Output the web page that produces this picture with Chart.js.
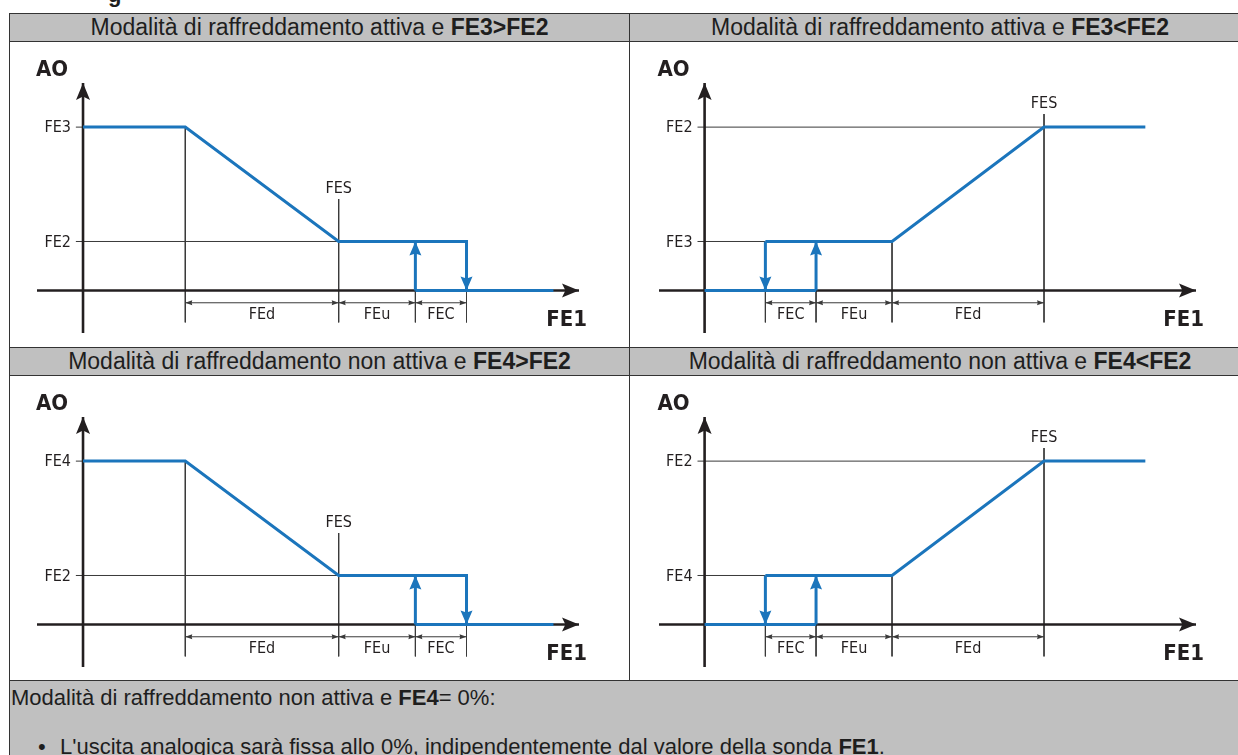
<!DOCTYPE html>
<html>
<head>
<meta charset="utf-8">
<script src="https://cdn.jsdelivr.net/npm/chart.js@4.4.1/dist/chart.umd.min.js"></script>
<style>
html,body{margin:0;padding:0;background:#fff;overflow:hidden;width:1238px;height:755px;}
body{position:relative;font-family:"Liberation Sans",Arial,sans-serif;color:#1e1e1e;}
.cell{position:absolute;box-sizing:border-box;border:1px solid #333;}
.hdr{background:#c0c0c0;font-size:23px;text-align:center;line-height:27px;white-space:nowrap;}
.panel{background:#fff;}
canvas{position:absolute;}
.txt{position:absolute;font-size:22px;line-height:24px;white-space:nowrap;}
.top-g{position:absolute;left:108px;top:-16px;font-size:22px;line-height:22px;font-weight:bold;}
</style>
</head>
<body>
<div class="top-g">g</div>

<div class="cell hdr" style="left:9px;top:13px;width:621px;height:29px;">Modalità di raffreddamento attiva e <b>FE3&gt;FE2</b></div>
<div class="cell hdr" style="left:629px;top:13px;width:622px;height:29px;">Modalità di raffreddamento attiva e <b>FE3&lt;FE2</b></div>
<div class="cell panel" style="left:9px;top:41px;width:621px;height:307px;"></div>
<div class="cell panel" style="left:629px;top:41px;width:622px;height:307px;"></div>
<div class="cell hdr" style="left:9px;top:347px;width:621px;height:29px;">Modalità di raffreddamento non attiva e <b>FE4&gt;FE2</b></div>
<div class="cell hdr" style="left:629px;top:347px;width:622px;height:29px;">Modalità di raffreddamento non attiva e <b>FE4&lt;FE2</b></div>
<div class="cell panel" style="left:9px;top:375px;width:621px;height:306px;"></div>
<div class="cell panel" style="left:629px;top:375px;width:622px;height:306px;"></div>
<div class="cell hdr" style="left:9px;top:680px;width:1242px;height:100px;"></div>
<div class="txt" style="left:11px;top:686px;">Modalità di raffreddamento non attiva e <b>FE4</b>= 0%:</div>
<div class="txt" style="left:38px;top:735px;">•</div>
<div class="txt" style="left:60px;top:735px;">L'uscita analogica sarà fissa allo 0%, indipendentemente dal valore della sonda <b>FE1</b>.</div>

<canvas id="cA" width="619" height="305" style="left:10px;top:42px;"></canvas>
<canvas id="cB" width="620" height="305" style="left:630px;top:42px;"></canvas>
<canvas id="cC" width="619" height="304" style="left:10px;top:376px;"></canvas>
<canvas id="cD" width="620" height="304" style="left:630px;top:376px;"></canvas>

<script>
// ---------- data (abstract diagram units) ----------
const xAxisExtent = [-9, 97];        // FE1 axis, arrow tip at 97
const yAxisExtent = [-26, 127];      // AO axis, arrow tip at 127
const levelLow = 30;                 // lower output level
const levelHigh = 100;               // upper output level
const guideBottom = -19.5;           // lower end of the vertical guide lines
const dimLineY = -7.5;               // dimension arrows
const dimLabelY = -15;               // dimension labels
const tickStart = -1.4;              // small tick left of AO axis
const fe1LabelY = -18;

// decreasing diagrams (FE3>FE2, FE4>FE2)
const decPathX = [0, 20, 50, 75, 75];
const decPathY = [levelHigh, levelHigh, levelLow, levelLow, 0];
const decBaseX = [65, 92];
const decUpX = 65;
const decBounds = [20, 50, 65, 75];
const decBoundTops = [levelHigh, 56, 0, 0];
const decDimLabels = ['FEd', 'FEu', 'FEC'];
const decSetpointX = 50;
const decSetpointTop = 56;
const decRefLines = [[tickStart, 50, levelLow], [tickStart, 0, levelHigh]];

// increasing diagrams (FE3<FE2, FE4<FE2)
const incPathX = [12, 37, 67, 87];
const incPathY = [levelLow, levelLow, levelHigh, levelHigh];
const incBaseX = [0, 22];
const incUpX = 22;
const incDownX = 12;
const incBounds = [12, 22, 37, 67];
const incBoundTops = [0, 0, levelLow, 108];
const incDimLabels = ['FEC', 'FEu', 'FEd'];
const incSetpointX = 67;
const incSetpointTop = 108;
const incRefLines = [[tickStart, 67, levelHigh], [tickStart, 12, levelLow]];

// tick labels per panel
const ticksA = ['FE3', 'FE2'];
const ticksB = ['FE2', 'FE3'];
const ticksC = ['FE4', 'FE2'];
const ticksD = ['FE2', 'FE4'];
const tickLevelsDec = [levelHigh, levelLow];
const tickLevelsInc = [levelHigh, levelLow];

// ---------- styles ----------
const BLUE = '#1b75bc';
const INK = '#231f20';
const GUIDE = '#3a3a3a';
const NARROW = '"Liberation Sans Narrow", "DejaVu Sans Condensed", "Arial Narrow", sans-serif';

function pts(xs, ys) { return xs.map((x, i) => ({x: x, y: ys[i]})); }

function lineDs(data, color, width, order, heads) {
  return {
    data: data, borderColor: color, backgroundColor: color, borderWidth: width,
    pointRadius: 0, pointHoverRadius: 0, tension: 0, fill: false, clip: false,
    borderCapStyle: 'butt', borderJoinStyle: 'miter', order: order, heads: heads || null
  };
}

function drawHead(ctx, fx, fy, tx, ty, len, half, notch, color) {
  const a = Math.atan2(ty - fy, tx - fx);
  const dx = Math.cos(a), dy = Math.sin(a);
  const px = -dy, py = dx;
  ctx.save();
  ctx.fillStyle = color;
  ctx.beginPath();
  ctx.moveTo(tx, ty);
  ctx.lineTo(tx - dx * len + px * half, ty - dy * len + py * half);
  ctx.lineTo(tx - dx * len * notch, ty - dy * len * notch);
  ctx.lineTo(tx - dx * len - px * half, ty - dy * len - py * half);
  ctx.closePath();
  ctx.fill();
  ctx.restore();
}

const diagramPlugin = {
  id: 'diagram',
  afterDatasetsDraw(chart) {
    const ctx = chart.ctx;
    chart.data.datasets.forEach((ds, i) => {
      if (!ds.heads) return;
      const el = chart.getDatasetMeta(i).data;
      ds.heads.forEach(h => {
        const tip = h.at === 'start' ? el[0] : el[el.length - 1];
        const prev = h.at === 'start' ? el[1] : el[el.length - 2];
        drawHead(ctx, prev.x, prev.y, tip.x, tip.y, h.len, h.half, h.notch, ds.borderColor);
      });
    });
  },
  afterDraw(chart, args, opts) {
    const ctx = chart.ctx;
    const xs = chart.scales.x, ys = chart.scales.y;
    const x0 = xs.getPixelForValue(0);
    ctx.save();
    ctx.fillStyle = INK;
    // tick labels
    ctx.font = '16px ' + NARROW;
    ctx.textAlign = 'right';
    ctx.textBaseline = 'middle';
    opts.tickLabels.forEach((t, i) => ctx.fillText(t, x0 - 12, ys.getPixelForValue(opts.tickLevels[i]) + 1));
    // setpoint label
    ctx.textAlign = 'center';
    ctx.textBaseline = 'alphabetic';
    ctx.fillText('FES', xs.getPixelForValue(opts.setX), ys.getPixelForValue(opts.setTop) - 6);
    // dimension labels
    ctx.textBaseline = 'middle';
    opts.dimLabels.forEach((t, i) => {
      const xm = (xs.getPixelForValue(opts.bounds[i]) + xs.getPixelForValue(opts.bounds[i + 1])) / 2;
      ctx.fillText(t, xm, ys.getPixelForValue(dimLabelY));
    });
    // axis names
    ctx.font = 'bold 22px ' + NARROW;
    ctx.textAlign = 'center';
    ctx.fillText('AO', x0 - 31, ys.getPixelForValue(yAxisExtent[1]) - 13);
    ctx.textAlign = 'right';
    ctx.fillText('FE1', xs.getPixelForValue(xAxisExtent[1]) + 8, ys.getPixelForValue(fe1LabelY));
    ctx.restore();
  }
};

function makeChart(id, spec, padL, padR, padB) {
  const ds = [];
  const arrowBig = {len: 14, half: 6, notch: 0.85};
  // blue output characteristic
  ds.push(lineDs(pts(spec.pathX, spec.pathY), BLUE, 3, 0,
    spec.pathHead ? [Object.assign({at: 'end'}, arrowBig)] : null));
  ds.push(lineDs(pts(spec.baseX, spec.baseX.map(() => 0)), BLUE, 3, 0));
  ds.push(lineDs(pts([spec.upX, spec.upX], [0, levelLow]), BLUE, 3, 0, [Object.assign({at: 'end'}, arrowBig)]));
  if (spec.downX !== null) {
    ds.push(lineDs(pts([spec.downX, spec.downX], [levelLow, 0]), BLUE, 3, 0, [Object.assign({at: 'end'}, arrowBig)]));
  }
  // axes
  const axisHead = {len: 17, half: 7, notch: 0.8};
  ds.push(lineDs(pts(xAxisExtent, [0, 0]), INK, 2.6, 1, [Object.assign({at: 'end'}, axisHead)]));
  ds.push(lineDs(pts([0, 0], yAxisExtent), INK, 2.6, 1, [Object.assign({at: 'end'}, axisHead)]));
  // horizontal reference lines
  spec.refLines.forEach(r => ds.push(lineDs(pts([r[0], r[1]], [r[2], r[2]]), GUIDE, 1, 2)));
  // vertical guide lines
  spec.bounds.forEach((b, i) => ds.push(lineDs(pts([b, b], [spec.boundTops[i], guideBottom]), GUIDE, 1, 2)));
  // dimension arrows
  const small = {len: 7, half: 2.6, notch: 0.9};
  for (let i = 0; i < spec.bounds.length - 1; i++) {
    ds.push(lineDs(pts([spec.bounds[i], spec.bounds[i + 1]], [dimLineY, dimLineY]), GUIDE, 1, 2,
      [Object.assign({at: 'start'}, small), Object.assign({at: 'end'}, small)]));
  }
  return new Chart(document.getElementById(id), {
    type: 'line',
    data: {datasets: ds},
    options: {
      responsive: false, animation: false, events: [],
      layout: {padding: {left: padL, right: padR, top: 41, bottom: padB}},
      scales: {
        x: {type: 'linear', min: xAxisExtent[0], max: xAxisExtent[1], display: false},
        y: {type: 'linear', min: yAxisExtent[0], max: yAxisExtent[1], display: false}
      },
      plugins: {
        legend: {display: false}, tooltip: {enabled: false},
        diagram: {
          tickLabels: spec.ticks, tickLevels: spec.tickLevels,
          setX: spec.setX, setTop: spec.setTop,
          bounds: spec.bounds, dimLabels: spec.dimLabels
        }
      }
    },
    plugins: [diagramPlugin]
  });
}

const decSpec = (ticks) => ({
  pathX: decPathX, pathY: decPathY, pathHead: true, baseX: decBaseX, upX: decUpX, downX: null,
  refLines: decRefLines, bounds: decBounds, boundTops: decBoundTops, dimLabels: decDimLabels,
  setX: decSetpointX, setTop: decSetpointTop, ticks: ticks, tickLevels: tickLevelsDec
});
const incSpec = (ticks) => ({
  pathX: incPathX, pathY: incPathY, pathHead: false, baseX: incBaseX, upX: incUpX, downX: incDownX,
  refLines: incRefLines, bounds: incBounds, boundTops: incBoundTops, dimLabels: incDimLabels,
  setX: incSetpointX, setTop: incSetpointTop, ticks: ticks, tickLevels: tickLevelsInc
});

makeChart('cA', decSpec(ticksA), 27, 50, 14);
makeChart('cB', incSpec(ticksB), 29, 54, 14);
makeChart('cC', decSpec(ticksC), 27, 50, 13);
makeChart('cD', incSpec(ticksD), 29, 54, 13);
</script>
</body>
</html>
